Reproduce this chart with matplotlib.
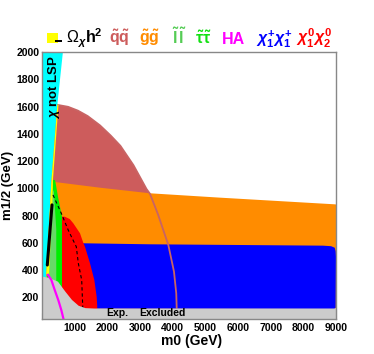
import matplotlib
matplotlib.use("Agg")
import matplotlib.pyplot as plt
from matplotlib.patches import Rectangle
from matplotlib.ticker import MultipleLocator

plt.rcParams['font.family'] = ['Liberation Sans', 'DejaVu Sans']
plt.rcParams['mathtext.fontset'] = 'custom'
plt.rcParams['mathtext.rm'] = 'Liberation Sans:bold'
plt.rcParams['mathtext.it'] = 'Liberation Sans:italic:bold'
plt.rcParams['mathtext.bf'] = 'Liberation Sans:bold'
plt.rcParams['mathtext.sf'] = 'Liberation Sans'

# ---------------- data (m0, m1/2 in GeV) ----------------
# boundary of "chi not LSP" (stau LSP) region
lsp_x = [0, 0, 640, 470, 290, 130, 120]
lsp_y = [40, 2000, 2000, 1614, 1060, 370, 40]

# squark-squark region (upper edge = arc)
arc_x = [480, 800, 1100, 1400, 1775, 2100, 2400, 2800, 3200, 3306, 3550, 3867, 4040, 4110, 4123]
arc_y = [1612, 1598, 1570, 1530, 1462, 1388, 1312, 1170, 995, 960, 810, 585, 390, 230, 125]
sq_x = arc_x + [4123, 0, 0]
sq_y = arc_y + [40, 40, 1612]

# gluino-gluino region
gl_x = [0, 300, 450, 1775, 3306, 5449, 8969, 9000, 9000, 0]
gl_y = [1052, 1052, 1045, 1005, 964, 932, 883, 882, 118, 118]

# chargino pair region
ch_x = [1100, 1100, 3300, 8600, 8850, 8960, 8990, 9000, 8990, 8950]
ch_y = [118, 598, 590, 580, 576, 565, 540, 500, 125, 116]

# neutralino pair region
nn_x = [612, 612, 700, 850, 958, 1163, 1265, 1316, 1469, 1602, 1673, 1690, 1690]
nn_y = [100, 793, 792, 775, 744, 671, 600, 572, 451, 328, 206, 140, 100]

# stau region and slepton region
st_x = [140, 330, 400, 489, 612, 612]
st_y = [300, 1060, 1062, 940, 793, 250]
sl_x = [180, 320, 360, 437, 437]
sl_y = [350, 960, 990, 700, 300]

# relic density band
om_x = [130, 290, 470, 505, 335, 320, 230, 215]
om_y = [370, 1060, 1614, 1614, 1060, 900, 440, 370]
ombl_x = [162, 306]
ombl_y = [438, 879]

# HA line
ha_x = [183, 285, 388, 500, 590, 660]
ha_y = [366, 329, 256, 180, 109, 40]

# dashed line
ds_x = [337, 591, 810, 1050, 1112, 1215, 1245, 1250]
ds_y = [952, 817, 690, 572, 451, 328, 145, 120]

# experimentally excluded region
ex_x = [0, 0, 200, 489, 714, 917, 1123, 1330, 1600, 9000, 9000]
ex_y = [40, 353, 345, 316, 243, 182, 139, 122, 119, 119, 40]

x_ticks = [1000, 2000, 3000, 4000, 5000, 6000, 7000, 8000, 9000]
y_ticks = [200, 400, 600, 800, 1000, 1200, 1400, 1600, 1800, 2000]

# ---------------- figure ----------------
W, H = 374, 354
fig = plt.figure(figsize=(W / 100, H / 100), dpi=100)
ax = fig.add_axes([42 / W, 1 - 319.3 / H, 294 / W, 267.3 / H])
ax.set_xlim(0, 9000)
ax.set_ylim(40, 2000)

ax.fill(sq_x, sq_y, color='#cd5c5c', lw=0, zorder=1)
ax.fill(gl_x, gl_y, color='#ff8c00', lw=0, zorder=2)
ax.plot(arc_x, arc_y, color='#c86464', lw=1.3, zorder=4.5, solid_joinstyle='round')
ax.fill(ch_x, ch_y, color='#0000ff', lw=0, zorder=3)
ax.fill(nn_x, nn_y, color='#ff0000', lw=0, zorder=5)
ax.fill(st_x, st_y, color='#00ee00', lw=0, zorder=6)
ax.fill(sl_x, sl_y, color='#66d966', lw=0, zorder=6.5)
ax.fill(lsp_x, lsp_y, color='#00ffff', lw=0, zorder=7)
ax.fill(om_x, om_y, color='#ffff00', lw=0, zorder=7.5)
ax.plot(ombl_x, ombl_y, color='black', lw=2.2, zorder=8, solid_capstyle='round')
ax.plot(ds_x, ds_y, color='black', lw=0.8, ls=(0, (3, 2.5)), zorder=8)
ax.fill(ex_x, ex_y, color='#cccccc', lw=0, zorder=9)
ax.plot(ha_x, ha_y, color='#ff00ff', lw=1.6, zorder=10)

for s in ax.spines.values():
    s.set_color('#888888')
    s.set_linewidth(1.0)
    s.set_zorder(20)

ax.set_xticks(x_ticks)
ax.set_xticklabels([str(v) for v in x_ticks])
ax.set_yticks(y_ticks)
ax.set_yticklabels([str(v) for v in y_ticks])
ax.xaxis.set_minor_locator(MultipleLocator(200))
ax.yaxis.set_minor_locator(MultipleLocator(50))
ax.tick_params(which='both', direction='in', color='#888888', top=False, right=False,
               labelsize=7.5, labelcolor='black', width=0.8)
ax.xaxis.set_tick_params(which='major', length=7, pad=3)
ax.xaxis.set_tick_params(which='minor', length=4)
ax.yaxis.set_tick_params(which='major', length=4, pad=2)
ax.yaxis.set_tick_params(which='minor', length=2.5)
for lab in ax.get_xticklabels() + ax.get_yticklabels():
    lab.set_fontweight('bold')

def px(x, y):
    return x / W, 1 - y / H

# axis titles
fig.text(*px(191.7, 341), 'm0 (GeV)', ha='center', va='center', fontsize=10, fontweight='bold')
fig.text(*px(8, 185.5), 'm1/2 (GeV)', ha='center', va='center', rotation=90,
         fontsize=9.5, fontweight='bold')

# in-plot texts
fig.text(*px(54, 87), r'$\chi$ not LSP', ha='center', va='center', rotation=90,
         fontsize=9.5, fontweight='bold', zorder=30)
fig.text(*px(106, 313.5), 'Exp.', ha='left', va='center', fontsize=7.5, fontweight='bold', zorder=30)
fig.text(*px(139, 313.5), 'Excluded', ha='left', va='center', fontsize=7.5, fontweight='bold', zorder=30)

# legend row
fig.patches.append(Rectangle(px(47, 43.3), 11.3 / W, 10.3 / H, transform=fig.transFigure,
                             facecolor='#ffff00', edgecolor='none'))
fig.patches.append(Rectangle(px(55, 41.8), 7 / W, 2.2 / H, transform=fig.transFigure,
                             facecolor='black', edgecolor='none'))
base = 43.5
fig.text(*px(66, base), r'$\mathsf{\Omega}_{\chi}$h$^{2}$', ha='left', va='baseline',
         fontsize=11.5, fontweight='bold')
fig.text(*px(109, base), r'$\tilde{\mathrm{q}}\tilde{\mathrm{q}}$', ha='left', va='baseline',
         fontsize=11.5, color='#cd5c5c')
fig.text(*px(139, base), r'$\tilde{\mathrm{g}}\tilde{\mathrm{g}}$', ha='left', va='baseline',
         fontsize=11.5, color='#ff8c00')
fig.text(*px(172, base), r'$\tilde{\mathrm{l}}\,\tilde{\mathrm{l}}$', ha='left', va='baseline',
         fontsize=11.5, color='#55cc55')
fig.text(*px(195, base), r'$\tilde{\mathrm{\tau}}\tilde{\mathrm{\tau}}$', ha='left', va='baseline',
         fontsize=11.5, color='#11e011')
fig.text(*px(222, base), 'HA', ha='left', va='baseline', fontsize=11.5, fontweight='bold',
         color='#ff00ff')
fig.text(*px(256, base), r'$\chi^{+}_{1}\chi^{+}_{1}$', ha='left', va='baseline',
         fontsize=11.5, color='#0000ff')
fig.text(*px(296, base), r'$\chi^{0}_{1}\chi^{0}_{2}$', ha='left', va='baseline',
         fontsize=11.5, color='#ff0000')

fig.savefig('out.png', dpi=100)
